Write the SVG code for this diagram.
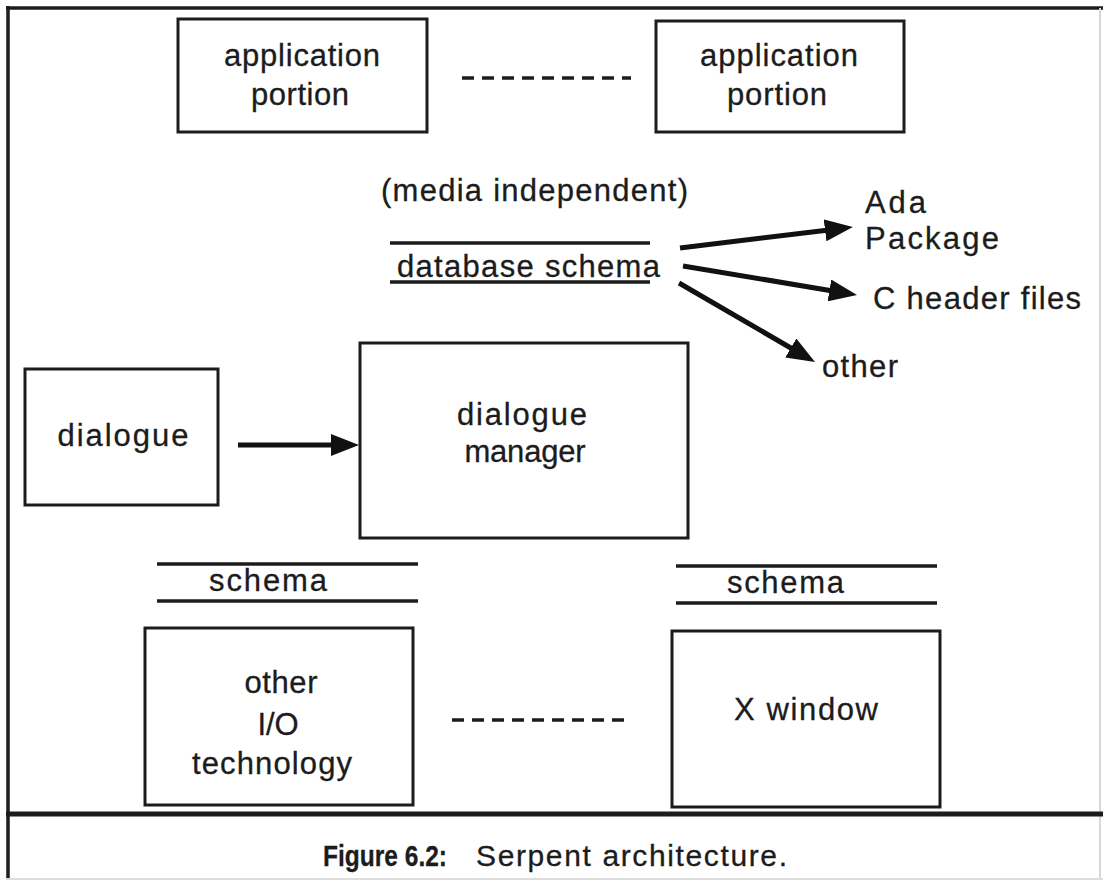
<svg xmlns="http://www.w3.org/2000/svg" width="1103" height="880" viewBox="0 0 1103 880">
<style>
  .t{font-family:"Liberation Sans",Arial,Helvetica,sans-serif;font-size:31px;fill:#1c1c1c;stroke:#1c1c1c;stroke-width:0.3}
  .c{text-anchor:middle}
  .cap{font-size:30px}
  .box{fill:none;stroke:#1c1c1c;stroke-width:3}
  .bar{stroke:#1c1c1c;stroke-width:3.5}
  .dash{stroke:#1c1c1c;stroke-width:3.5;stroke-dasharray:12 8}
  .arr{stroke:#111;stroke-width:5;fill:none;marker-end:url(#ah)}
  .frame{stroke:#1c1c1c;stroke-width:3.5;fill:none}
</style>
<defs>
  <marker id="ah" viewBox="0 0 28 22" refX="8" refY="11" markerWidth="28" markerHeight="22" markerUnits="userSpaceOnUse" orient="auto">
    <path d="M0,0 L28,11 L0,22 Z" fill="#111"/>
  </marker>
</defs>
<rect width="1103" height="880" fill="#ffffff"/>
<g id="frame">
  <line class="frame" x1="8" y1="6" x2="8" y2="880"/>
  <line class="frame" x1="6" y1="8" x2="1103" y2="8"/>
  <line x1="1100" y1="8" x2="1100" y2="880" stroke="#d8d8d8" stroke-width="2"/>
  <line x1="6" y1="879" x2="1103" y2="879" stroke="#dddddd" stroke-width="2"/>
  <line x1="6" y1="814" x2="1103" y2="814" stroke="#1c1c1c" stroke-width="5"/>
</g>
<g id="app1">
  <rect class="box" x="178" y="19" width="249" height="113"/>
  <text class="t c" x="302" y="66" textLength="156" lengthAdjust="spacing">application</text>
  <text class="t c" x="300" y="105" textLength="98" lengthAdjust="spacing">portion</text>
</g>
<g id="app2">
  <rect class="box" x="656" y="21" width="248" height="111"/>
  <text class="t c" x="779" y="66" textLength="158" lengthAdjust="spacing">application</text>
  <text class="t c" x="777" y="105" textLength="100" lengthAdjust="spacing">portion</text>
</g>
<g id="media">
  <text class="t" x="381" y="201" textLength="307" lengthAdjust="spacing">(media independent)</text>
</g>
<g id="dbschema">
  <line class="bar" x1="390" y1="243" x2="650" y2="243"/>
  <line class="bar" x1="390" y1="282" x2="650" y2="282"/>
  <text class="t" x="397" y="277" textLength="263" lengthAdjust="spacing">database schema</text>
</g>
<g id="ada">
  <text class="t" x="865" y="213" textLength="61" lengthAdjust="spacing">Ada</text>
  <text class="t" x="865" y="249" textLength="134" lengthAdjust="spacing">Package</text>
</g>
<g id="cheader">
  <text class="t" x="873" y="309" textLength="208" lengthAdjust="spacing">C header files</text>
</g>
<g id="otherout">
  <text class="t" x="822" y="377" textLength="76" lengthAdjust="spacing">other</text>
</g>
<g id="dialogue">
  <rect class="box" x="25" y="369" width="193" height="136"/>
  <text class="t c" x="123" y="446" textLength="131" lengthAdjust="spacing">dialogue</text>
</g>
<g id="manager">
  <rect class="box" x="360" y="343" width="328" height="195"/>
  <text class="t c" x="522" y="425" textLength="130" lengthAdjust="spacing">dialogue</text>
  <text class="t c" x="525" y="462" textLength="121" lengthAdjust="spacing">manager</text>
</g>
<g id="schemaL">
  <line class="bar" x1="157" y1="564" x2="418" y2="564"/>
  <line class="bar" x1="157" y1="601" x2="418" y2="601"/>
  <text class="t" x="209" y="591" textLength="118" lengthAdjust="spacing">schema</text>
</g>
<g id="schemaR">
  <line class="bar" x1="676" y1="566" x2="937" y2="566"/>
  <line class="bar" x1="676" y1="603" x2="937" y2="603"/>
  <text class="t" x="727" y="593" textLength="117" lengthAdjust="spacing">schema</text>
</g>
<g id="otherio">
  <rect class="box" x="145" y="628" width="268" height="177"/>
  <text class="t c" x="281" y="693" textLength="73" lengthAdjust="spacing">other</text>
  <text class="t c" x="278" y="735" textLength="41" lengthAdjust="spacing">I/O</text>
  <text class="t c" x="272" y="774" textLength="160" lengthAdjust="spacing">technology</text>
</g>
<g id="xwindow">
  <rect class="box" x="672" y="631" width="268" height="176"/>
  <text class="t" x="734" y="720" textLength="144" lengthAdjust="spacing">X window</text>
</g>
<g id="connectors">
  <line class="dash" x1="462" y1="78" x2="631" y2="78"/>
  <line class="dash" x1="452" y1="720" x2="626" y2="720"/>
  <line class="arr" x1="238" y1="445" x2="339" y2="445"/>
  <line class="arr" x1="680" y1="248" x2="833" y2="229.4"/>
  <line class="arr" x1="683" y1="266" x2="837.3" y2="291.7"/>
  <line class="arr" x1="679" y1="283" x2="797.7" y2="352"/>
</g>
<g id="caption">
  <text class="t cap" x="323" y="866" font-weight="bold" textLength="124" lengthAdjust="spacingAndGlyphs">Figure 6.2:</text>
  <text class="t cap" x="476" y="866" textLength="311" lengthAdjust="spacing">Serpent architecture.</text>
</g>
</svg>
